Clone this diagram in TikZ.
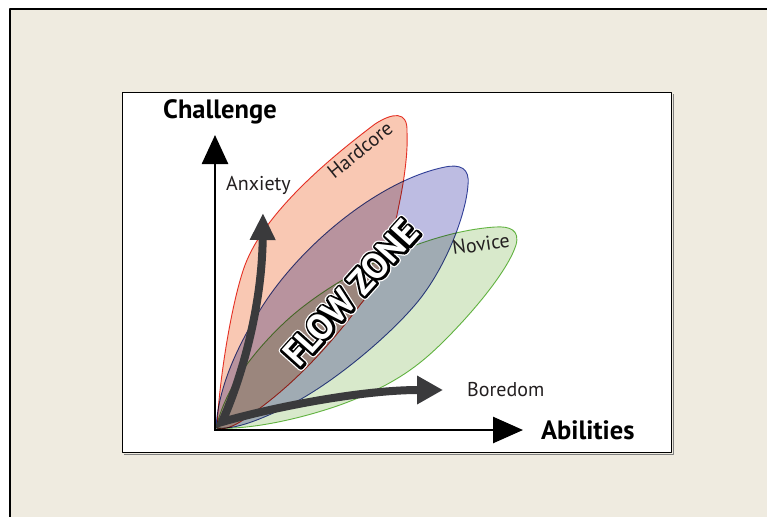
\documentclass[tikz,border=0pt]{standalone}
\usepackage{fontspec}
\setmainfont{PT Sans}
\newfontfamily\zoneoutline[FakeBold=13]{PT Sans Bold}
\newfontfamily\zonehalo[FakeBold=20]{PT Sans Bold}
\usetikzlibrary{arrows.meta}
\definecolor{bgbeige}{HTML}{EFEBE0}
\definecolor{redfill}{RGB}{249,200,179}
\definecolor{bluefill}{RGB}{189,188,226}
\definecolor{greenfill}{RGB}{216,233,203}
\definecolor{redline}{HTML}{E8372C}
\definecolor{blueline}{HTML}{3A4BA3}
\definecolor{greenline}{HTML}{6CBD4A}
\definecolor{arrowgray}{HTML}{3A3A3C}
\definecolor{inkblack}{HTML}{231F20}
\begin{document}
\begin{tikzpicture}[x=1pt,y=-1pt, line join=round,
  blob/.style={line width=0.9pt},
  lbl/.style={font=\fontsize{20}{24}\selectfont, text=inkblack, inner sep=0pt},
  axlbl/.style={font=\fontsize{26.5}{30}\selectfont\bfseries, text=black, inner sep=0pt},
  zonetxt/.style={inner sep=0pt, rotate=48}]
\useasboundingbox (0,0) rectangle (767,517);
\fill[white] (0,0) rectangle (767,517);
\fill[bgbeige] (10,9) rectangle (767,517);
\draw[line width=1.5pt] (767,9) -- (10,9) -- (10,517);
\draw[line width=1pt, gray] (124,454) -- (673,454) -- (673,94);
\draw[line width=1pt, fill=white] (122,92) rectangle (671,452);

\begin{scope}[blend mode=multiply]
\draw[blob, draw=redline, fill=redfill] (217,428) .. controls (219,380) and (232,300) .. (245,265) .. controls (265,212) and (330,158) .. (375,124) .. controls (392,113) and (408,110) .. (407,132) .. controls (408,150) and (405,175) .. (400,200) .. controls (392,240) and (385,275) .. (360,305) .. controls (330,345) and (290,390) .. (240,422) .. controls (230,428) and (222,430) .. (217,428) -- cycle;
\draw[blob, draw=blueline, fill=bluefill] (216,428) .. controls (218,390) and (235,350) .. (260,310) .. controls (300,245) and (380,180) .. (445,167) .. controls (460,164) and (470,168) .. (468,185) .. controls (466,215) and (445,270) .. (415,305) .. controls (385,340) and (330,385) .. (290,405) .. controls (260,420) and (235,430) .. (216,428) -- cycle;
\draw[blob, draw=greenline, fill=greenfill] (216,428) .. controls (225,390) and (250,355) .. (285,322) .. controls (330,280) and (420,232) .. (495,227) .. controls (510,226) and (520,230) .. (516,245) .. controls (508,270) and (475,310) .. (445,340) .. controls (420,365) and (395,385) .. (340,405) .. controls (300,419) and (250,430) .. (216,428) -- cycle;
\end{scope}

\node[lbl, rotate=39] (hard) at (360,150) {Hardcore};
\node[lbl, rotate=8] (nov) at (481,244) {Novice};
\node[lbl, anchor=base west] (anx) at (226,190) {Anxiety};
\node[lbl, anchor=base west] (bor) at (467,396) {Boredom};
\node[axlbl, anchor=base] (chal) at (220,118) {Challenge};
\node[axlbl, anchor=base west] (abil) at (541,439) {Abilities};

\coordinate (fzc) at (351,293);
\node[zonetxt, text=white, font=\zonehalo\fontsize{36}{40}\selectfont] (fzh) at (fzc) {FLOW ZONE};
\node[zonetxt, text=black, font=\zoneoutline\fontsize{36}{40}\selectfont] (fzo) at (fzc) {FLOW ZONE};
\node[zonetxt, text=white, font=\fontsize{36}{40}\selectfont\bfseries] (fz) at (fzc) {FLOW ZONE};

\coordinate (V) at (222,422);
\coordinate (atip) at (263,213);
\coordinate (btip) at (443,390);
\draw[arrowgray, line width=8pt, line join=miter, {Triangle[length=27pt,width=24pt]}-{Triangle[length=26pt,width=27pt]}] (atip) .. controls (262,300) and (245,370) .. (V) .. controls (270,408) and (360,390) .. (btip);

\coordinate (O) at (215,430);
\coordinate (ytip) at (215,135);
\coordinate (xtip) at (523,430);
\draw[line width=2.6pt, line join=miter, {Triangle[length=29pt,width=26pt]}-{Triangle[length=30pt,width=26pt]}] (ytip) -- (O) -- (xtip);
\end{tikzpicture}
\end{document}
